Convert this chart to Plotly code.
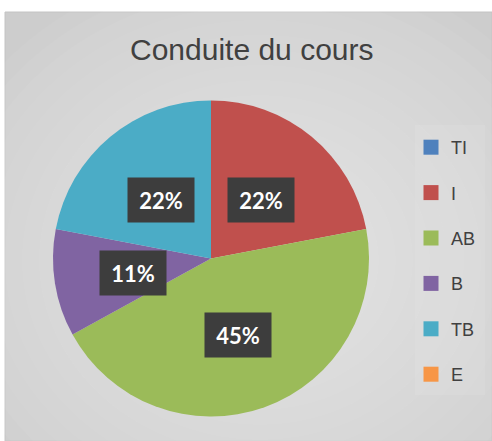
import math
import plotly.graph_objects as go

categories = ["TI", "I", "AB", "B", "TB", "E"]
values = [0, 22, 45, 11, 22, 0]
colors = ["#4F81BD", "#C0504D", "#9BBB59", "#8064A2", "#4BACC6", "#F79646"]
title_text = "Conduite du cours"

W, H = 492, 441
cx, cy, R = 211, 258.5, 158

fig = go.Figure()

fig.add_trace(go.Pie(
    labels=categories, values=values, sort=False, direction="clockwise", rotation=0,
    marker=dict(colors=colors, line=dict(width=0)),
    textinfo="none", showlegend=False,
    domain=dict(x=[(cx - R) / W, (cx + R) / W], y=[1 - (cy + R) / H, 1 - (cy - R) / H]),
))

# legend entries
for name, col in zip(categories, colors):
    fig.add_trace(go.Scatter(x=[None], y=[None], mode="markers", name=name, legendgroup=name,
                             marker=dict(symbol="square", size=15, color=col)))

# data labels
total = sum(values)
cum = 0
annotations = []
for v in values:
    if v > 0:
        mid = (cum + v / 2) / total * 2 * math.pi
        px = cx + 0.5 * R * math.sin(mid)
        py = cy - 0.5 * R * math.cos(mid) + 2
        annotations.append(dict(
            x=px / W, y=1 - py / H, xref="paper", yref="paper", showarrow=False,
            xanchor="center", yanchor="middle",
            text=f"<b>{round(v / total * 100)}%</b>",
            font=dict(family="Lato", size=22, color="white"),
            bgcolor="#3d3d3d", width=64, height=42, align="center", valign="middle",
        ))
    cum += v

annotations.append(dict(x=252 / W, y=1 - 50 / H, xref="paper", yref="paper", showarrow=False,
                        xanchor="center", yanchor="middle",
                        text=title_text, font=dict(family="Liberation Sans", size=30, color="#404040")))

shapes = [dict(type="rect", xref="paper", yref="paper", x0=5 / W, x1=1, y0=0, y1=1 - 12 / H,
               fillcolor="#cdcdcd", line=dict(color="#c4c4c4", width=1), layer="below")]
n = 18
for i in range(n):
    rx = 340 - i * 17
    ry = 300 - i * 15
    ex, ey = 260, 260
    shapes.append(dict(type="circle", xref="paper", yref="paper",
                       x0=(ex - rx) / W, x1=(ex + rx) / W, y0=1 - (ey + ry) / H, y1=1 - (ey - ry) / H,
                       fillcolor="white", opacity=0.045, line=dict(width=0), layer="below"))
shapes.append(dict(type="rect", xref="paper", yref="paper", x0=415 / W, x1=485 / W,
                   y0=1 - 395 / H, y1=1 - 125 / H, fillcolor="white", opacity=0.08,
                   line=dict(width=0), layer="below"))

fig.update_layout(
    width=W, height=H, margin=dict(l=0, r=0, t=0, b=0),
    paper_bgcolor="white", plot_bgcolor="rgba(0,0,0,0)",
    xaxis=dict(visible=False), yaxis=dict(visible=False),
    legend=dict(x=411 / W, y=1 - 129 / H, xanchor="left", yanchor="top",
                font=dict(family="Liberation Sans", size=18, color="#404040"),
                bgcolor="rgba(0,0,0,0)", tracegroupgap=19, itemwidth=30),
    annotations=annotations, shapes=shapes,
)

fig.write_html("out.html", config={"displayModeBar": False},
               post_script="document.body.style.margin='0px';")
